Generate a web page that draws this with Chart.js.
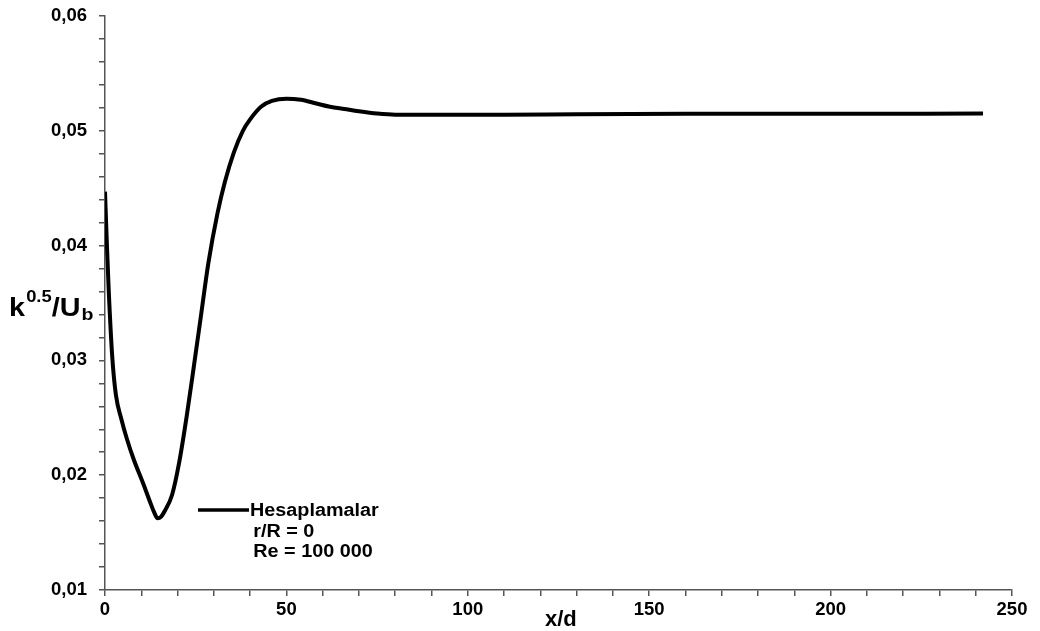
<!DOCTYPE html>
<html>
<head>
<meta charset="utf-8">
<script src="https://cdn.jsdelivr.net/npm/chart.js@4/dist/chart.umd.min.js"></script>
<style>
  body { margin: 0; background: #fff; }
  #wrap { width: 1040px; height: 631px; position: relative; }
</style>
</head>
<body>
<div id="wrap"><canvas id="kChart"></canvas></div>
<script>
// distance along the pipe (x/d) and computed turbulence intensity on the axis
const xValues = [0, 0.5, 1, 2, 3, 4.5, 6, 8, 10.5, 12.5, 13.5, 14.5, 15.5, 16.5, 18.5, 20.5,
  22.5, 24.5, 26.5, 28.5, 31, 33, 35.5, 38, 40, 43, 46, 50, 54, 58, 62, 66, 70, 75, 80, 86, 95,
  110, 130, 160, 200, 242];
const kValues = [0.0447, 0.0403, 0.0363, 0.0303, 0.0270, 0.0249, 0.0232, 0.0213, 0.0193,
  0.0176, 0.0168, 0.01625, 0.0164, 0.0169, 0.0183, 0.0212, 0.0251, 0.0295, 0.0340, 0.0385,
  0.0428, 0.0455, 0.0481, 0.0500, 0.0510, 0.0521, 0.0526, 0.0528, 0.0527, 0.0524, 0.0521,
  0.0519, 0.0517, 0.0515, 0.0514, 0.0514, 0.0514, 0.0514, 0.05145, 0.05148, 0.05148, 0.0515];
const xTickLabels = [0, 50, 100, 150, 200, 250];
const yTickLabels = [0.01, 0.02, 0.03, 0.04, 0.05, 0.06];
const seriesName = 'Hesaplamalar';
const legendNotes = ['r/R = 0', 'Re = 100 000'];

const axisColor = '#555';
const fontName = '"Liberation Sans", Arial, sans-serif';

function isLabelled(v, list) {
    return list.some(t => Math.abs(t - v) < 1e-9);
}

// titles and the little legend box are drawn by hand (super/subscripts)
const textPlugin = {
    id: 'texts',
    afterDraw(chart) {
        const ctx = chart.ctx;
        const area = chart.chartArea;
        ctx.save();
        ctx.fillStyle = '#000';
        ctx.textBaseline = 'alphabetic';
        ctx.textAlign = 'left';

        // y title k^0.5/U_b, a bit wider like the original
        ctx.save();
        ctx.translate(9, 0);
        ctx.scale(1.15, 1);
        let x = 0;
        const base = 316;
        ctx.font = 'bold 25px ' + fontName;
        ctx.fillText('k', x, base);
        x += ctx.measureText('k').width + 1;
        ctx.font = 'bold 16px ' + fontName;
        ctx.fillText('0.5', x, base - 14);
        x += ctx.measureText('0.5').width;
        ctx.font = 'bold 25px ' + fontName;
        ctx.fillText('/U', x, base);
        x += ctx.measureText('/U').width + 1;
        ctx.font = 'bold 17px ' + fontName;
        ctx.fillText('b', x, base + 4);
        ctx.restore();

        // x title
        ctx.font = 'bold 22px ' + fontName;
        ctx.fillText('x/d', 545, area.bottom + 36);

        // legend
        ctx.strokeStyle = '#000';
        ctx.lineWidth = 3.5;
        ctx.beginPath();
        ctx.moveTo(198, 510);
        ctx.lineTo(249, 510);
        ctx.stroke();
        ctx.save();
        ctx.translate(250, 0);
        ctx.scale(1.1, 1);
        ctx.font = 'bold 18px ' + fontName;
        ctx.fillText(seriesName, 0, 516);
        legendNotes.forEach((t, i) => ctx.fillText(t, 3, 537 + i * 20));
        ctx.restore();
        ctx.restore();
    }
};

const ctx = document.getElementById('kChart').getContext('2d');
const kChart = new Chart(ctx, {
    type: 'line',
    data: {
        datasets: [{
            label: seriesName,
            data: xValues.map((x, i) => ({ x: x, y: kValues[i] })),
            borderColor: '#000',
            borderWidth: 4,
            pointRadius: 0,
            fill: false,
            cubicInterpolationMode: 'monotone'
        }]
    },
    options: {
        responsive: true,
        maintainAspectRatio: false,
        animation: false,
        layout: { padding: { top: 16, right: 28, left: 0, bottom: 0 } },
        plugins: {
            legend: { display: false },
            tooltip: { enabled: false }
        },
        scales: {
            x: {
                type: 'linear',
                min: 0,
                max: 250,
                afterFit(scale) { scale.height = 41; },
                border: { display: true, color: axisColor, width: 1.5 },
                grid: { drawOnChartArea: false, drawTicks: true, tickLength: 6, color: axisColor, lineWidth: 1.5 },
                ticks: {
                    stepSize: 10,
                    autoSkip: false,
                    maxRotation: 0,
                    padding: 3,
                    color: '#000',
                    font: { family: fontName, size: 18.5, weight: 'bold' },
                    callback: v => isLabelled(v, xTickLabels) ? String(v) : ''
                }
            },
            y: {
                min: 0.01,
                max: 0.06,
                afterFit(scale) {
                    scale.width = 105;
                    scale.paddingTop = 0;
                    scale.paddingBottom = 0;
                },
                border: { display: true, color: axisColor, width: 1.5 },
                grid: { drawOnChartArea: false, drawTicks: true, tickLength: 6, color: axisColor, lineWidth: 1.5 },
                ticks: {
                    stepSize: 0.002,
                    autoSkip: false,
                    padding: 12,
                    color: '#000',
                    font: { family: fontName, size: 18.5, weight: 'bold' },
                    callback: v => isLabelled(v, yTickLabels) ? v.toFixed(2).replace('.', ',') : ''
                }
            }
        }
    },
    plugins: [textPlugin]
});
</script>
</body>
</html>
